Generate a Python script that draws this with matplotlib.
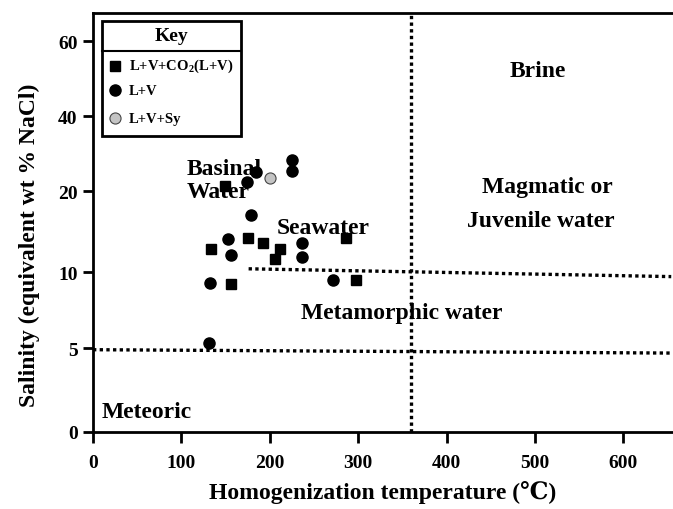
import numpy as np
import matplotlib
matplotlib.use("Agg")
import matplotlib.pyplot as plt
from matplotlib.lines import Line2D
from matplotlib.patches import Rectangle

plt.rcParams['font.family'] = ['Liberation Serif', 'DejaVu Serif']
plt.rcParams['font.weight'] = 'bold'
plt.rcParams['mathtext.fontset'] = 'custom'
plt.rcParams['mathtext.rm'] = 'Liberation Serif:bold'

# ---- data ----
sq_temp = [149, 133, 175, 192, 211, 206, 286, 156, 297]
sq_sal = [21.3, 12.8, 14.2, 13.6, 12.8, 11.6, 14.2, 9.2, 9.5]

ci_temp = [184, 174, 225, 225, 179, 153, 156, 236, 236, 132, 272, 131]
ci_sal = [25.0, 22.3, 28.3, 25.4, 17.0, 14.1, 12.1, 13.6, 11.8, 9.3, 9.5, 5.3]

sy_temp = [200]
sy_sal = [23.4]

# field boundaries
vline_temp = 360
upper_line_temp = [176, 654]
upper_line_sal = [10.4, 9.7]
lower_line_temp = [0, 654]
lower_line_sal = [4.9, 4.7]

xticks = [0, 100, 200, 300, 400, 500, 600]
yticks = [0, 5, 10, 20, 40, 60]

# y axis: piecewise scale, tick values evenly-ish spaced
scale_vals = [0, 5, 10, 20, 40, 60, 80]
scale_pos = [0, 84, 160, 241, 316, 391, 466]


def fwd(v):
    return np.interp(v, scale_vals, scale_pos)


def inv(p):
    return np.interp(p, scale_pos, scale_vals)


fig = plt.figure(figsize=(6.73, 5.10), dpi=100)
ax = fig.add_axes([93 / 673, 77 / 510, 580 / 673, 419 / 510])
ax.set_yscale('function', functions=(fwd, inv))
ax.set_xlim(0, 656)
ax.set_ylim(0, 67.5)

dot = (0, (1, 1.0))
ax.plot([vline_temp, vline_temp], [0, 67.5], color='black', lw=2.4, linestyle=dot)
ax.plot(upper_line_temp, upper_line_sal, color='black', lw=2.4, linestyle=dot)
ax.plot(lower_line_temp, lower_line_sal, color='black', lw=2.4, linestyle=dot)

ax.plot(sq_temp, sq_sal, linestyle='none', marker='s', ms=7.2, color='black', zorder=5)
ax.plot(ci_temp, ci_sal, linestyle='none', marker='o', ms=8, color='black', zorder=5)
ax.plot(sy_temp, sy_sal, linestyle='none', marker='o', ms=8, markerfacecolor='#c4c4c4',
        markeredgecolor='#444444', markeredgewidth=0.8, zorder=5)

ax.set_xticks(xticks)
ax.set_xticklabels([str(t) for t in xticks])
ax.set_yticks(yticks)
ax.set_yticklabels([str(t) for t in yticks])
ax.yaxis.set_minor_locator(matplotlib.ticker.NullLocator())
ax.tick_params(axis='both', direction='out', width=2, labelsize=14)
ax.tick_params(axis='x', length=8, pad=8)
ax.tick_params(axis='y', length=7, pad=4)

for s in ['left', 'bottom', 'top']:
    ax.spines[s].set_linewidth(2)
ax.spines['right'].set_visible(False)

ax.set_xlabel('Homogenization temperature (℃)', fontsize=17, fontweight='bold')
ax.set_ylabel('Salinity (equivalent wt % NaCl)', fontsize=17, fontweight='bold')
ax.xaxis.set_label_coords(0.5, -0.115)
ax.yaxis.set_label_coords(-0.092, 0.449)

tk = dict(transform=ax.transAxes, fontsize=17, fontweight='bold', va='center')
ax.text(0.767, 0.862, 'Brine', ha='center', **tk)
ax.text(0.784, 0.585, 'Magmatic or', ha='center', **tk)
ax.text(0.772, 0.504, 'Juvenile water', ha='center', **tk)
ax.text(0.162, 0.628, 'Basinal', ha='left', **tk)
ax.text(0.162, 0.575, 'Water', ha='left', **tk)
ax.text(0.316, 0.489, 'Seawater', ha='left', **tk)
ax.text(0.532, 0.286, 'Metamorphic water', ha='center', **tk)
ax.text(0.0155, 0.048, 'Meteoric', ha='left', **tk)

# key box
bx0, bx1, by0, by1 = 0.0155, 0.2556, 0.706, 0.981
ax.add_patch(Rectangle((bx0, by0), bx1 - bx0, by1 - by0, transform=ax.transAxes,
                       fill=True, facecolor='white', edgecolor='black', lw=2, zorder=6))
ax.add_line(Line2D([bx0, bx1], [0.909, 0.909], transform=ax.transAxes, color='black',
                   lw=1.5, zorder=7))
ax.text((bx0 + bx1) / 2, 0.947, 'Key', transform=ax.transAxes, ha='center', va='center',
        fontsize=14, fontweight='bold', zorder=7)
key_labels = [r'L+V+CO$_\mathregular{2}$(L+V)', 'L+V', 'L+V+Sy']
key_y = [0.874, 0.816, 0.749]
key_style = [dict(marker='s', ms=6.5, color='black'),
             dict(marker='o', ms=8, color='black'),
             dict(marker='o', ms=8, markerfacecolor='#c4c4c4', markeredgecolor='#444444',
                  markeredgewidth=0.8)]
for lab, yy, st in zip(key_labels, key_y, key_style):
    ax.add_line(Line2D([0.038], [yy], transform=ax.transAxes, linestyle='none', zorder=8, **st))
    ax.text(0.062, yy, lab, transform=ax.transAxes, ha='left', va='center', fontsize=10.5,
            fontweight='bold', zorder=8)

fig.savefig('out.png', dpi=100)
